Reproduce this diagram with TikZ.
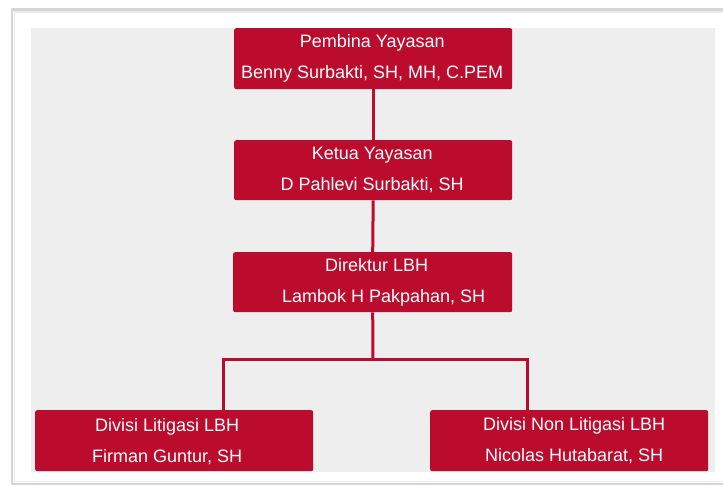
\documentclass[tikz,border=0pt]{standalone}
\usepackage{fontspec}
\setmainfont{Liberation Sans}
\definecolor{crim}{RGB}{188,12,46}
\definecolor{panel}{RGB}{238,238,238}
\definecolor{edge}{RGB}{214,214,214}
\begin{document}
\begin{tikzpicture}[x=1pt,y=-1pt,
  box/.style={draw=none,fill=crim,rounded corners=2pt,inner sep=0pt,anchor=north west},
  lbl/.style={text=white,align=center,inner sep=0pt,font=\fontsize{18}{31}\selectfont},
  link/.style={draw=crim,line width=3pt}]
\useasboundingbox (0,0) rectangle (723,486);
\fill[white] (0,0) rectangle (723,486);
% page shadow frame
\draw[edge,line width=2.5pt] (760,9.5) -- (12,9.5) -- (12,484) -- (760,484);
\draw[black!8,line width=1.5pt] (760,12) -- (14.5,12) -- (14.5,481.5) -- (760,481.5);
% panel
\fill[panel] (31,28) rectangle (715,472);
% boxes
\node[box,minimum width=278pt,minimum height=61pt] (b1) at (234,28) {};
\node[box,minimum width=278pt,minimum height=60pt] (b2) at (234,140) {};
\node[box,minimum width=279pt,minimum height=60pt] (b3) at (233,252) {};
\node[box,minimum width=278pt,minimum height=61pt] (b4) at (35,410) {};
\node[box,minimum width=278pt,minimum height=61pt] (b5) at (430,410) {};
% labels
\node[lbl] (t1) at ([xshift=-1pt]b1.center) {Pembina Yayasan\\Benny Surbakti, SH, MH, C.PEM};
\node[lbl] (t2) at ([xshift=-1pt]b2.center) {Ketua Yayasan\\D Pahlevi Surbakti, SH};
\node[lbl] (t3) at ([xshift=4pt]b3.center) {Direktur LBH\\\hspace*{14pt}Lambok H Pakpahan, SH};
\node[lbl] (t4) at ([xshift=-7pt,yshift=-1pt]b4.center) {Divisi Litigasi LBH\\Firman Guntur, SH};
\node[lbl] (t5) at ([xshift=5pt]b5.center) {Divisi Non Litigasi LBH\\Nicolas Hutabarat, SH};
% connectors
\coordinate (j) at (373,359);
\coordinate (jl) at (223,359);
\coordinate (jr) at (527,359);
\draw[link] (b1.south) -- (b2.north);
\draw[link] (b2.south) -- (b3.north);
\draw[link] (b3.south) -- (j);
\draw[link] (jl |- b4.north) -- (jl) -- (jr) -- (jr |- b5.north);
\end{tikzpicture}
\end{document}
